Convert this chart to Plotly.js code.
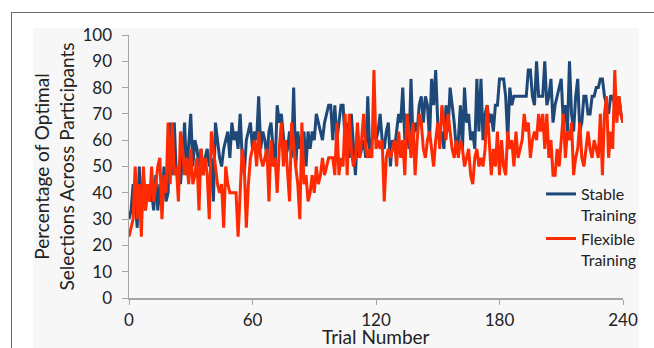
<!DOCTYPE html>
<html><head><meta charset="utf-8">
<script src="https://cdn.plot.ly/plotly-3.0.1.min.js"></script>
<style>
html,body{margin:0;padding:0;background:#fff;width:654px;height:348px;overflow:hidden;}
#frame{position:absolute;left:11px;top:12px;width:660px;height:360px;border:1.5px solid #6e6e6e;box-sizing:border-box;}
#panel{position:absolute;left:33px;top:28px;width:606px;height:330px;background:#f7f7f7;}
#chart{position:absolute;left:0;top:0;width:654px;height:348px;}
</style></head><body>
<div id="frame"></div><div id="panel"></div><div id="chart"></div>
<script>
// Trial numbers 0..240
const trials = [];
for (let t = 0; t <= 240; t++) trials.push(t);

const stableTraining = [
  30, 33.3, 43.3, 36.7, 26.7, 50, 30, 46.7, 33.3, 43.3,
  36.7, 40, 33.3, 46.7, 33.3, 43.3, 33.3, 50, 36.7, 40,
  66.7, 46.7, 66.7, 46.7, 50, 43.3, 53.3, 66.7, 46.7, 56.7,
  70, 50, 60, 56.7, 50, 56.7, 46.7, 53.3, 56.7, 50,
  53.3, 36.7, 66.7, 60, 53.3, 50, 56.7, 60, 63.3, 53.3,
  66.7, 60, 63.3, 56.7, 70, 53.3, 46.7, 60, 63.3, 66.7,
  56.7, 63.3, 60, 76.7, 56.7, 63.3, 60, 53.3, 63.3, 66.7,
  56.7, 50, 73.3, 66.7, 70, 60, 53.3, 56.7, 63.3, 53.3,
  80, 50, 63.3, 56.7, 60, 63.3, 50, 63.3, 56.7, 63.3,
  60, 70, 66.7, 63.3, 60, 66.7, 70, 73.3, 73.3, 60,
  73.3, 60, 66.7, 73.3, 73.3, 60, 66.7, 53.3, 70, 56.7,
  46.7, 63.3, 53.3, 56.7, 60, 53.3, 76.7, 53.3, 60, 63.3,
  60, 63.3, 70, 60, 56.7, 63.3, 66.7, 50, 60, 56.7,
  63.3, 70, 66.7, 80, 60, 70, 56.7, 83.3, 60, 66.7,
  63.3, 73.3, 76.7, 66.7, 76.7, 73.3, 60, 83.3, 73.3, 86.7,
  66.7, 60, 63.3, 56.7, 73.3, 63.3, 80, 73.3, 66.7, 56.7,
  60, 73.3, 56.7, 80, 66.7, 70, 60, 63.3, 56.7, 83.3,
  63.3, 83.3, 60, 70, 73.3, 66.7, 70, 63.3, 73.3, 73.3,
  83.3, 83.3, 83.3, 76.7, 60, 80, 73.3, 76.7, 76.7, 76.7,
  76.7, 76.7, 76.7, 76.7, 86.7, 86.7, 76.7, 73.3, 90, 76.7,
  76.7, 76.7, 90, 73.3, 76.7, 83.3, 66.7, 73.3, 76.7, 80,
  83.3, 66.7, 73.3, 63.3, 90, 70, 63.3, 76.7, 83.3, 63.3,
  66.7, 76.7, 76.7, 70, 70, 76.7, 76.7, 80, 80, 83.3,
  83.3, 76.7, 73.3, 70, 76.7, 76.7, 73.3, 70, 76.7, 70,
  66.7
];

const flexibleTraining = [
  23.3, 26.7, 30, 50, 30, 43.3, 23.3, 50, 33.3, 43.3,
  36.7, 50, 36.7, 43.3, 50, 53.3, 30, 46.7, 40, 66.7,
  43.3, 66.7, 46.7, 50, 36.7, 63.3, 56.7, 46.7, 53.3, 43.3,
  56.7, 43.3, 46.7, 53.3, 33.3, 56.7, 46.7, 53.3, 46.7, 30,
  63.3, 56.7, 50, 43.3, 40, 43.3, 26.7, 50, 43.3, 40,
  40, 40, 40, 23.3, 40, 56.7, 50, 26.7, 43.3, 53.3,
  56.7, 60, 50, 63.3, 53.3, 50, 53.3, 56.7, 36.7, 60,
  50, 53.3, 40, 56.7, 66.7, 50, 60, 46.7, 36.7, 66.7,
  56.7, 50, 43.3, 30, 66.7, 43.3, 46.7, 36.7, 40, 46.7,
  40, 50, 43.3, 46.7, 53.3, 46.7, 50, 53.3, 53.3, 53.3,
  46.7, 66.7, 46.7, 53.3, 50, 70, 46.7, 70, 56.7, 50,
  53.3, 66.7, 53.3, 60, 70, 56.7, 53.3, 56.7, 53.3, 86.7,
  56.7, 60, 56.7, 60, 36.7, 53.3, 56.7, 53.3, 56.7, 60,
  50, 63.3, 53.3, 60, 46.7, 70, 63.3, 53.3, 66.7, 46.7,
  60, 70, 66.7, 56.7, 53.3, 60, 63.3, 56.7, 50, 60,
  66.7, 56.7, 73.3, 66.7, 60, 70, 63.3, 56.7, 53.3, 60,
  53.3, 60, 56.7, 50, 53.3, 56.7, 46.7, 43.3, 53.3, 56.7,
  50, 53.3, 50, 56.7, 73.3, 60, 46.7, 56.7, 50, 63.3,
  46.7, 60, 50, 46.7, 63.3, 56.7, 60, 50, 63.3, 53.3,
  56.7, 60, 70, 63.3, 66.7, 53.3, 60, 63.3, 60, 70,
  63.3, 70, 56.7, 70, 53.3, 60, 46.7, 46.7, 56.7, 50,
  60, 70, 53.3, 63.3, 60, 66.7, 46.7, 53.3, 56.7, 66.7,
  53.3, 50, 56.7, 63.3, 56.7, 53.3, 60, 56.7, 53.3, 70,
  46.7, 70, 76.7, 53.3, 63.3, 56.7, 86.7, 66.7, 76.7, 70,
  66.7
];

const xTickVals = [0, 60, 120, 180, 240];
const seriesNames = ["Stable<br>Training", "Flexible<br>Training"];
const xTitle = "Trial Number";
const yTitle = "Percentage of Optimal<br>Selections Across Participants";

const font = "Lato, 'Open Sans', sans-serif";
const axisGray = "#a6a6a6";
const traces = [
  {x: trials, y: stableTraining, type: "scatter", mode: "lines", name: seriesNames[0],
   line: {color: "#1d4877", width: 3}},
  {x: trials, y: flexibleTraining, type: "scatter", mode: "lines", name: seriesNames[1],
   line: {color: "#fe2a02", width: 3}}
];

const layout = {
  width: 654, height: 348,
  paper_bgcolor: "rgba(0,0,0,0)", plot_bgcolor: "rgba(0,0,0,0)",
  margin: {l: 129, r: 29, t: 35, b: 50},
  font: {family: font, color: "#222", size: 17},
  showlegend: true,
  legend: {x: 0.834, y: 0.46, xanchor: "left", yanchor: "top", bgcolor: "rgba(0,0,0,0)",
    valign: "top", font: {size: 16, color: "#222"}, tracegroupgap: 4, itemwidth: 30},
  xaxis: {range: [0, 240], tickvals: xTickVals, ticks: "outside", ticklen: 5, tickcolor: axisGray,
    showline: true, linecolor: axisGray, linewidth: 1.5, showgrid: false, zeroline: false,
    automargin: false, ticklabelstandoff: 1,
    tickfont: {size: 17, color: "#222"}},
  yaxis: {range: [0, 100], dtick: 10, ticks: "outside", ticklen: 6, tickcolor: axisGray,
    showline: true, linecolor: axisGray, linewidth: 1.5, showgrid: false, zeroline: false,
    automargin: false, ticklabelstandoff: 6,
    tickfont: {size: 17, color: "#222"},
    title: {text: yTitle, font: {size: 19, color: "#222"}, standoff: 3}},
  annotations: [
    {text: xTitle, xref: "paper", yref: "paper", x: 0.5, y: -0.146, xanchor: "center", yanchor: "middle",
     showarrow: false, font: {size: 19, color: "#222"}}
  ]
};
Plotly.newPlot("chart", traces, layout, {staticPlot: true, displayModeBar: false});
</script></body></html>
